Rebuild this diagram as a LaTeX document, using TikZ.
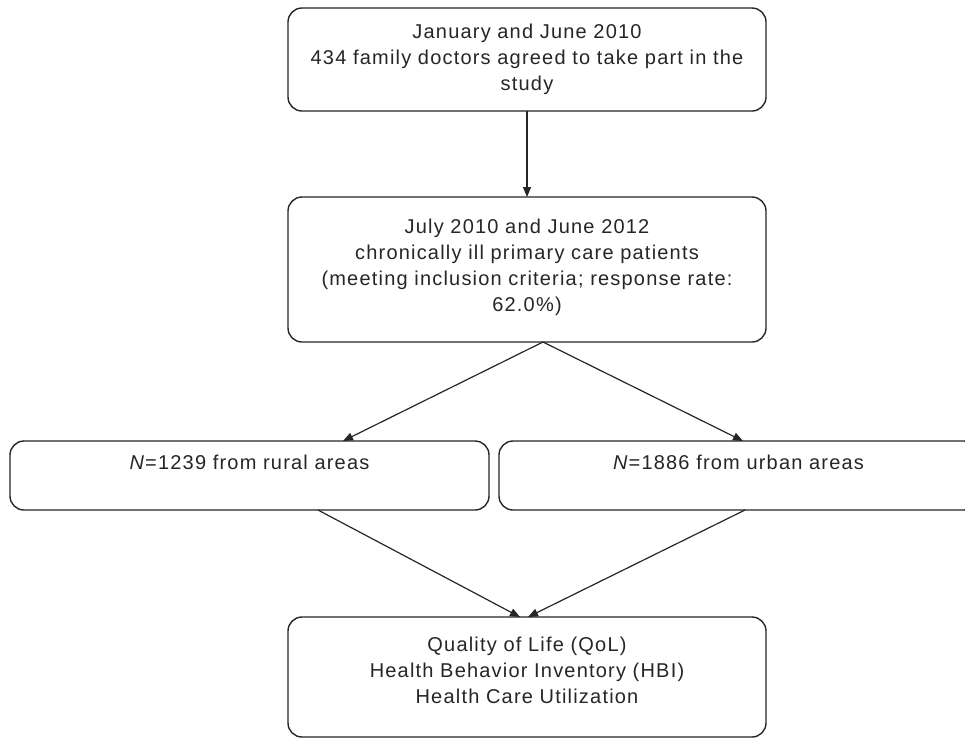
\documentclass[tikz,border=0pt]{standalone}
\usepackage{fontspec}
\setmainfont{Liberation Sans}[LetterSpace=6]
\usepackage{tikz}
\usetikzlibrary{
    arrows.meta,
    positioning
}

\begin{document}
\begin{tikzpicture}[
        x=1pt, y=1pt,
        node distance=86pt and 10pt,
        every node/.style={font=\fontsize{20}{26}\selectfont, text=black!85},
        stage/.style={
            rectangle,
            rounded corners=14pt,
            draw=black!85,
            line width=1.4pt,
            fill=white,
            minimum width=478pt,
            text width=450pt,
            align=center,
            inner sep=0pt,
            outer sep=0pt
        },
        branch/.style={stage, minimum width=479pt, minimum height=69pt, text depth=26pt},
        flow/.style={-{Triangle[length=10pt,width=8pt]}, line width=1.2pt, draw=black!85}
    ]
        \useasboundingbox (0,0) rectangle (965,-740);

        \node[stage, minimum height=103pt] (doctors) at (527,-59.5)
            {January and June 2010\\434 family doctors agreed to take part in the\\study};
        \node[stage, minimum height=145pt, text depth=86pt, below=of doctors] (patients)
            {July 2010 and June 2012\\chronically ill primary care patients\\(meeting inclusion criteria; response rate:\\62.0\%)};
        \node[branch, below=99pt of patients, xshift=-277.5pt] (rural)
            {\textit{N}=1239 from rural areas};
        \node[branch, right=of rural] (urban)
            {\textit{N}=1886 from urban areas};
        \node[stage, minimum height=120pt, text depth=66pt, below=275pt of patients] (outcomes)
            {Quality of Life (QoL)\\Health Behavior Inventory (HBI)\\Health Care Utilization};

        \draw[flow] (doctors) -- (patients);
        \draw[flow] ([xshift=16pt]patients.south) -- ([xshift=93.5pt]rural.north);
        \draw[flow] ([xshift=16pt]patients.south) -- ([xshift=4.5pt]urban.north);
        \draw[flow] ([xshift=68.5pt]rural.south) -- ([xshift=-7pt]outcomes.north);
        \draw[flow] ([xshift=6.5pt]urban.south) -- ([xshift=1pt]outcomes.north);
    \end{tikzpicture}
\end{document}
